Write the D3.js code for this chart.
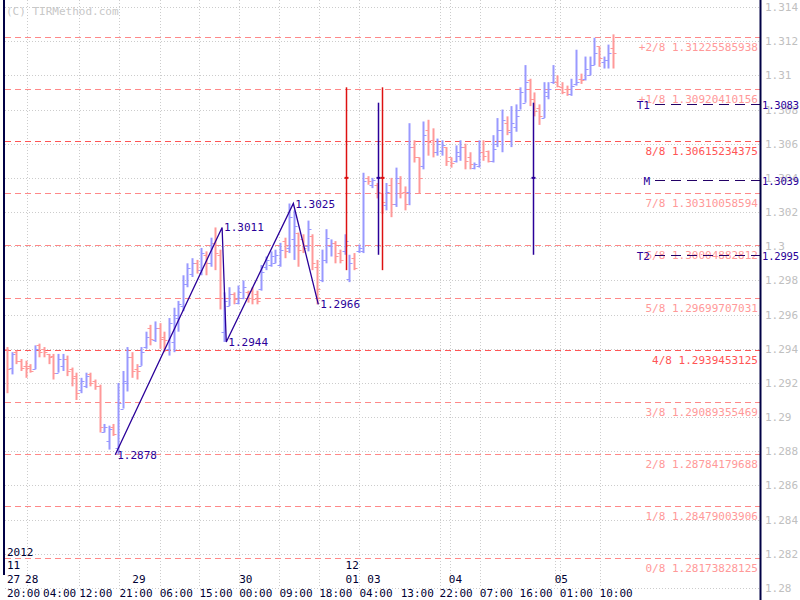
<!DOCTYPE html>
<html><head><meta charset="utf-8">
<script src="https://cdn.jsdelivr.net/npm/d3@7"></script>
<style>body{margin:0;background:#fff}svg{display:block}text{font-family:"DejaVu Sans Mono",monospace;font-size:11px}</style>
</head><body><svg id="c" width="800" height="600"></svg>
<script>
// OHLC bars [open, high, low, close]
const bars = [
[1.2940,1.2941,1.2914,1.2928],[1.2929,1.2938,1.2925,1.2937],[1.2938,1.2939,1.2931,1.2933],[1.2933,1.2934,1.2927,1.2929],
[1.2930,1.2933,1.2923,1.2929],[1.2930,1.2931,1.2926,1.2927],[1.2928,1.2942,1.2928,1.2940],[1.2942,1.2943,1.2935,1.2938],
[1.2940,1.2941,1.2935,1.2938],[1.2937,1.2937,1.2931,1.2935],[1.2936,1.2937,1.2922,1.2926],[1.2926,1.2937,1.2926,1.2934],
[1.2930,1.2937,1.2927,1.2934],[1.2934,1.2936,1.2924,1.2927],[1.2928,1.2929,1.2918,1.2923],[1.2924,1.2926,1.2910,1.2914],
[1.2916,1.2923,1.2914,1.2921],[1.2918,1.2926,1.2917,1.2924],[1.2925,1.2926,1.2918,1.2920],[1.2921,1.2922,1.2916,1.2918],
[1.2918,1.2919,1.2891,1.2894],[1.2891,1.2896,1.2891,1.2894],[1.2886,1.2895,1.2881,1.2893],[1.2894,1.2896,1.2889,1.2890],
[1.2882,1.2920,1.2878,1.2908],[1.2905,1.2927,1.2905,1.2921],[1.2920,1.2941,1.2915,1.2935],[1.2935,1.2938,1.2923,1.2927],
[1.2928,1.2931,1.2922,1.2927],[1.2930,1.2941,1.2930,1.2938],[1.2941,1.2950,1.2940,1.2947],[1.2952,1.2954,1.2942,1.2946],
[1.2945,1.2956,1.2944,1.2952],[1.2952,1.2955,1.2940,1.2946],[1.2947,1.2950,1.2938,1.2945],[1.2940,1.2958,1.2936,1.2955],
[1.2944,1.2964,1.2938,1.2960],[1.2958,1.2968,1.2950,1.2966],[1.2965,1.2983,1.2962,1.2978],[1.2978,1.2990,1.2976,1.2987],
[1.2984,1.2993,1.2982,1.2990],[1.2990,1.2992,1.2984,1.2986],[1.2986,1.2999,1.2983,1.2996],[1.2995,1.2997,1.2983,1.2990],
[1.2990,1.3005,1.2988,1.3002],[1.3002,1.3011,1.2986,1.2996],[1.2995,1.2998,1.2963,1.2970],[1.2950,1.2973,1.2944,1.2968],
[1.2965,1.2976,1.2965,1.2972],[1.2972,1.2973,1.2966,1.2969],[1.2967,1.2977,1.2966,1.2973],[1.2970,1.2980,1.2969,1.2976],
[1.2973,1.2974,1.2967,1.2970],[1.2974,1.2976,1.2966,1.2969],[1.2972,1.2974,1.2966,1.2968],[1.2975,1.2989,1.2974,1.2985],
[1.2988,1.2994,1.2986,1.2992],[1.2989,1.2997,1.2988,1.2994],[1.2990,1.2998,1.2990,1.2995],[1.2989,1.3002,1.2988,1.2998],
[1.3003,1.3005,1.2993,1.2997],[1.2999,1.3025,1.2996,1.3017],[1.3004,1.3021,1.2992,1.3012],[1.3008,1.3008,1.2988,1.2998],
[1.3004,1.3007,1.2996,1.2999],[1.3000,1.3015,1.2997,1.3010],[1.3006,1.3007,1.2986,1.2990],[1.2988,1.2992,1.2966,1.2975],
[1.2980,1.2998,1.2979,1.2992],[1.2992,1.3010,1.2990,1.3005],[1.3000,1.3004,1.2994,1.3002],[1.3002,1.3003,1.2990,1.2994],
[1.2996,1.2998,1.2990,1.2992],[1.2997,1.3007,1.2995,1.3003],[1.2981,1.2995,1.2979,1.2990],[1.2993,1.2996,1.2986,1.2987],
[1.2997,1.3001,1.2996,1.2999],[1.2997,1.3043,1.2996,1.3038],[1.3040,1.3041,1.3036,1.3038],[1.3036,1.3040,1.3034,1.3039],
[1.3036,1.3037,1.3028,1.3032],[1.3031,1.3031,1.3019,1.3026],[1.3024,1.3037,1.3021,1.3032],[1.3036,1.3040,1.3017,1.3025],
[1.3025,1.3046,1.3023,1.3040],[1.3037,1.3041,1.3028,1.3031],[1.3032,1.3035,1.3021,1.3025],[1.3032,1.3072,1.3024,1.3058],
[1.3058,1.3062,1.3049,1.3052],[1.3052,1.3052,1.3031,1.3040],[1.3047,1.3073,1.3045,1.3065],[1.3068,1.3074,1.3053,1.3061],
[1.3062,1.3069,1.3052,1.3055],[1.3055,1.3063,1.3053,1.3060],[1.3056,1.3062,1.3053,1.3059],[1.3058,1.3058,1.3047,1.3050],
[1.3052,1.3052,1.3046,1.3049],[1.3050,1.3059,1.3049,1.3055],[1.3053,1.3062,1.3050,1.3058],[1.3058,1.3060,1.3045,1.3050],
[1.3052,1.3055,1.3045,1.3048],[1.3046,1.3049,1.3045,1.3048],[1.3047,1.3062,1.3046,1.3055],[1.3055,1.3062,1.3050,1.3053],
[1.3056,1.3056,1.3049,1.3050],[1.3050,1.3065,1.3049,1.3057],[1.3060,1.3075,1.3058,1.3068],[1.3068,1.3080,1.3055,1.3074],
[1.3072,1.3076,1.3065,1.3068],[1.3067,1.3082,1.3058,1.3072],[1.3070,1.3083,1.3067,1.3076],[1.3080,1.3093,1.3080,1.3090],
[1.3084,1.3106,1.3084,1.3096],[1.3097,1.3098,1.3082,1.3086],[1.3086,1.3090,1.3076,1.3079],[1.3081,1.3083,1.3071,1.3076],
[1.3075,1.3096,1.3075,1.3090],[1.3088,1.3096,1.3086,1.3092],[1.3096,1.3106,1.3095,1.3096],[1.3096,1.3100,1.3093,1.3094],
[1.3093,1.3096,1.3089,1.3090],[1.3092,1.3094,1.3088,1.3089],[1.3089,1.3098,1.3088,1.3094],[1.3095,1.3115,1.3094,1.3096],
[1.3098,1.3101,1.3095,1.3097],[1.3098,1.3111,1.3097,1.3104],[1.3100,1.3111,1.3100,1.3106],[1.3106,1.3122,1.3106,1.3113],
[1.3117,1.3117,1.3105,1.3110],[1.3108,1.3111,1.3104,1.3109],[1.3109,1.3118,1.3104,1.3113],[1.3116,1.3124,1.3104,1.3113]
];
// special vertical markers [barIndex, high, low, mid, type]
const markers = [[73.2,1.3093,1.2986,1.3040,"r"],[80.1,1.3084,1.2995,1.3040,"b"],[81.0,1.3093,1.2986,1.3040,"r"],[113.6,1.3084,1.2995,1.3040,"b"]];
// zigzag pivots [barIndex, price]
const zigzag = [[23.4,1.2878],[46.5,1.3011],[47.4,1.2944],[61.9,1.3025],[67.3,1.2966]];
const levelNames = ["+2/8","+1/8","8/8","7/8","6/8","5/8","4/8","3/8","2/8","1/8","0/8"];
const levelValues = [1.31225585938,1.30920410156,1.30615234375,1.30310058594,1.30004882812,1.29699707031,1.2939453125,1.29089355469,1.28784179688,1.28479003906,1.28173828125];
const targetNames = ["T1","M","T2"];
const targetValues = [1.3083,1.3039,1.2995];
const yTicks = [1.28,1.282,1.284,1.286,1.288,1.29,1.292,1.294,1.296,1.298,1.3,1.302,1.304,1.306,1.308,1.31,1.312,1.314];
const yTickLabels = ["1.28","1.282","1.284","1.286","1.288","1.29","1.292","1.294","1.296","1.298","1.3","1.302","1.304","1.306","1.308","1.31","1.312","1.314"];
const timeIdx = [0,7.8,15.6,24.3,33,41.6,50.2,58.9,67.5,76.2,85.1,93.5,102.2,110.8,119.5,128.1];
const timeLabels = ["20:00","04:00","12:00","21:00","06:00","15:00","00:00","09:00","18:00","04:00","13:00","22:00","07:00","16:00","01:00","10:00"];
const dateIdx = [0,3.9,27.1,50.2,73.2,77.9,95.5,118.4];
const dateLabels = ["27","28","29","30","01","03","04","05"];
const gridIdx = [4.3,15.6,24.3,33,41.6,50.2,58.9,67.5,76.2,93.5,95.7,102.2,118.4,119.5,128.1];

const svg = d3.select("#c");
const x = d3.scaleLinear().domain([0, bars.length-1]).range([7, 613]);
const y = d3.scaleLinear().domain([1.28, 1.314]).range([588, 7]);
const R = 760;
const blue = "#9999ff", red = "#ff9999", ind = "#2a0099";

// grid
svg.append("g").selectAll("line").data(yTicks).join("line")
  .attr("x1",5).attr("x2",R).attr("y1",d=>Math.round(y(d))+.5).attr("y2",d=>Math.round(y(d))+.5)
  .attr("stroke","#cccccc").attr("stroke-dasharray","1,2");
svg.append("g").selectAll("line").data(gridIdx).join("line")
  .attr("x1",d=>Math.round(x(d))+.5).attr("x2",d=>Math.round(x(d))+.5).attr("y1",0).attr("y2",588)
  .attr("stroke","#cccccc").attr("stroke-dasharray","1,2");

// levels
const lg = svg.append("g");
levelValues.forEach((v,i)=>{
  const dark = (levelNames[i]==="4/8"||levelNames[i]==="8/8");
  const yy = Math.round(y(v))+.5;
  lg.append("line").attr("x1",5).attr("x2",R).attr("y1",yy).attr("y2",yy)
    .attr("stroke",dark?"#ff5555":"#ff8888").attr("stroke-dasharray","6,4");
  lg.append("text").attr("x",R-2).attr("y",yy+13).attr("text-anchor","end")
    .attr("fill",dark?"#ff5555":"#ff9999").text(levelNames[i]+" "+v.toFixed(11).replace(/0+$/,""));
});

// bars
const bg = svg.append("g");
bars.forEach((b,i)=>{
  const c = b[3]>=b[0]?blue:red, xx = Math.round(x(i))+.5;
  bg.append("line").attr("x1",xx).attr("x2",xx).attr("y1",y(b[1])).attr("y2",y(b[2])).attr("stroke",c).attr("stroke-width",2);
  bg.append("line").attr("x1",xx-3).attr("x2",xx).attr("y1",Math.round(y(b[0]))+.5).attr("y2",Math.round(y(b[0]))+.5).attr("stroke",c);
  bg.append("line").attr("x1",xx).attr("x2",xx+3).attr("y1",Math.round(y(b[3]))+.5).attr("y2",Math.round(y(b[3]))+.5).attr("stroke",c);
});
// markers
markers.forEach(m=>{
  const c = m[4]==="r"?"#dd1111":ind, xx=Math.round(x(m[0]))+.5;
  bg.append("line").attr("x1",xx).attr("x2",xx).attr("y1",y(m[1])).attr("y2",y(m[2])).attr("stroke",c).attr("stroke-width",1.5);
  bg.append("line").attr("x1",xx-2).attr("x2",xx+2).attr("y1",y(m[3])).attr("y2",y(m[3])).attr("stroke",c).attr("stroke-width",2);
});
// zigzag
svg.append("path").datum(zigzag).attr("fill","none").attr("stroke",ind).attr("stroke-width",1.3)
  .attr("d",d3.line().x(d=>x(d[0])).y(d=>y(d[1])));
svg.append("g").selectAll("text").data(zigzag).join("text")
  .attr("x",d=>x(d[0])+2).attr("y",d=>y(d[1])+4).attr("fill",ind).text(d=>d[1].toFixed(4));

// right axis tick labels
svg.append("g").selectAll("text").data(yTicks).join("text")
  .attr("x",R+5).attr("y",d=>y(d)+4).attr("fill","#c0c0c0").text((d,i)=>yTickLabels[i]);

// targets
targetValues.forEach((v,i)=>{
  const yy=Math.round(y(v))+.5;
  svg.append("line").attr("x1",655).attr("x2",R).attr("y1",yy).attr("y2",yy).attr("stroke","#220066").attr("stroke-dasharray","10,6");
  svg.append("text").attr("x",650).attr("y",yy+4).attr("text-anchor","end").attr("fill",ind).text(targetNames[i]);
  svg.append("text").attr("x",R+2).attr("y",yy+4).attr("fill",ind).style("font-size","10.5px").attr("textLength",37).text(v.toFixed(4));
});

svg.append("line").attr("x1",R+.5).attr("x2",R+.5).attr("y1",0).attr("y2",600).attr("stroke","#000044").attr("stroke-width",2);
svg.append("line").attr("x1",4).attr("x2",4).attr("y1",0).attr("y2",575).attr("stroke","#000044").attr("stroke-width",2);

// time axis
svg.append("g").selectAll("text").data(timeIdx).join("text")
  .attr("x",d=>x(d)).attr("y",597).attr("fill","#000033").text((d,i)=>timeLabels[i]);
svg.append("g").selectAll("text").data(dateIdx).join("text")
  .attr("x",d=>x(d)).attr("y",583).attr("fill","#000033").text((d,i)=>dateLabels[i]);
svg.append("text").attr("x",x(0)).attr("y",569).attr("fill","#000033").text("11");
svg.append("text").attr("x",x(73.2)).attr("y",569).attr("fill","#000033").text("12");
svg.append("text").attr("x",x(0)).attr("y",556).attr("fill","#000033").text("2012");
svg.append("text").attr("x",6).attr("y",15).attr("fill","#c8c8c8").text("(C) TIRMethod.com");
</script></body></html>
